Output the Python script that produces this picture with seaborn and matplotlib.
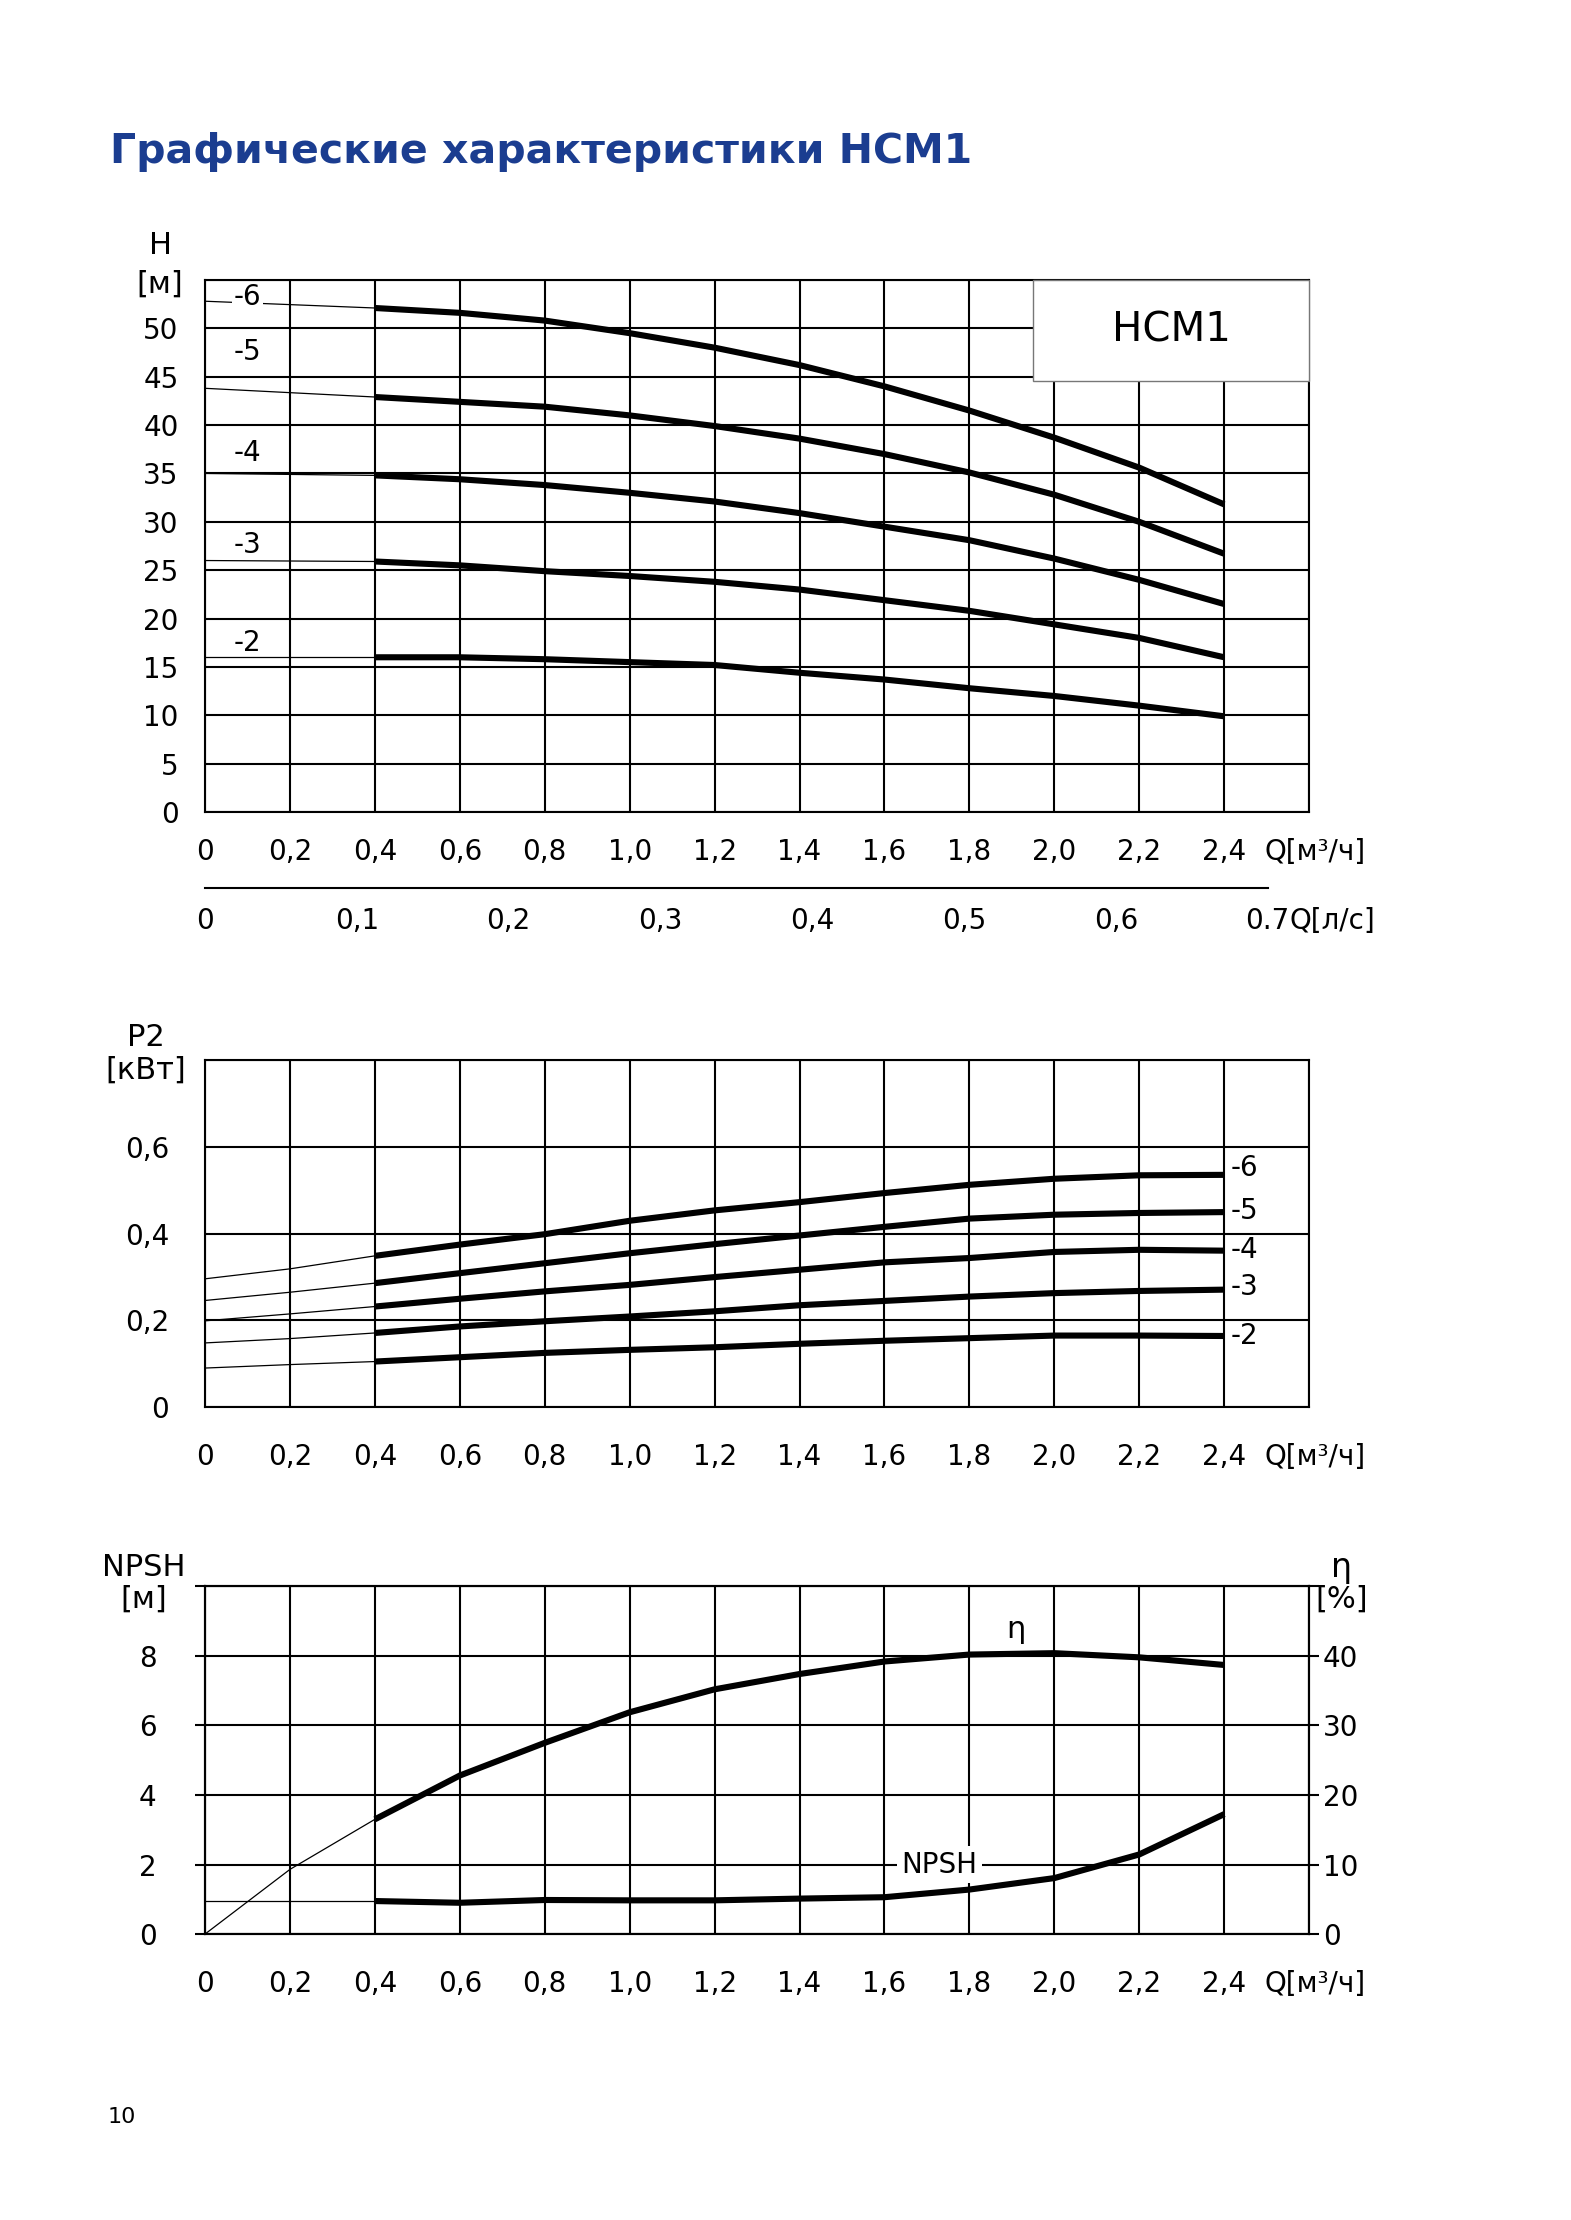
import numpy as np
import pandas as pd
import seaborn as sns
import matplotlib.pyplot as plt
from matplotlib.patches import Rectangle

# ---- data ----
stages = ['-6', '-5', '-4', '-3', '-2']

# H(Q), m  (first point = thin extension to Q=0)
q_h = [0, 0.4, 0.6, 0.8, 1.0, 1.2, 1.4, 1.6, 1.8, 2.0, 2.2, 2.4]
h_6 = [52.8, 52.1, 51.6, 50.8, 49.5, 48.0, 46.2, 44.0, 41.5, 38.7, 35.6, 31.8]
h_5 = [43.8, 42.9, 42.4, 41.9, 41.0, 39.9, 38.6, 37.0, 35.1, 32.8, 30.0, 26.7]
h_4 = [35.0, 34.8, 34.4, 33.8, 33.0, 32.1, 30.9, 29.5, 28.1, 26.2, 24.0, 21.5]
h_3 = [26.0, 25.9, 25.5, 24.9, 24.4, 23.8, 23.0, 21.9, 20.8, 19.4, 18.0, 16.0]
h_2 = [16.0, 16.0, 16.0, 15.8, 15.5, 15.2, 14.4, 13.7, 12.8, 12.0, 11.0, 9.9]
h_label_y = [53.2, 47.6, 37.1, 27.6, 17.5]

# P2(Q), kW
q_p = [0, 0.2, 0.4, 0.6, 0.8, 1.0, 1.2, 1.4, 1.6, 1.8, 2.0, 2.2, 2.4]
p_6 = [0.296, 0.319, 0.349, 0.375, 0.399, 0.430, 0.454, 0.473, 0.494, 0.513, 0.527, 0.535, 0.536]
p_5 = [0.246, 0.265, 0.286, 0.309, 0.332, 0.355, 0.376, 0.396, 0.416, 0.435, 0.444, 0.448, 0.450]
p_4 = [0.199, 0.215, 0.232, 0.250, 0.267, 0.282, 0.300, 0.317, 0.334, 0.344, 0.358, 0.363, 0.361]
p_3 = [0.148, 0.158, 0.171, 0.186, 0.198, 0.209, 0.221, 0.235, 0.245, 0.255, 0.263, 0.268, 0.271]
p_2 = [0.090, 0.098, 0.105, 0.115, 0.125, 0.132, 0.138, 0.146, 0.153, 0.159, 0.165, 0.165, 0.164]
p_label_y = [0.551, 0.452, 0.362, 0.276, 0.163]

# efficiency %, NPSH m
q_e = [0, 0.2, 0.4, 0.6, 0.8, 1.0, 1.2, 1.4, 1.6, 1.8, 2.0, 2.2, 2.4]
eta = [0, 9.3, 16.5, 22.8, 27.5, 31.9, 35.2, 37.4, 39.2, 40.2, 40.4, 39.8, 38.7]
q_n = [0, 0.4, 0.6, 0.8, 1.0, 1.2, 1.4, 1.6, 1.8, 2.0, 2.2, 2.4]
npsh = [0.95, 0.95, 0.90, 0.98, 0.97, 0.97, 1.02, 1.06, 1.28, 1.61, 2.29, 3.45]

q_ticks = [0, 0.2, 0.4, 0.6, 0.8, 1.0, 1.2, 1.4, 1.6, 1.8, 2.0, 2.2, 2.4, 2.6]
q_labels = ['0', '0,2', '0,4', '0,6', '0,8', '1,0', '1,2', '1,4', '1,6', '1,8',
            '2,0', '2,2', '2,4', '']
ls_ticks = [0, 0.1, 0.2, 0.3, 0.4, 0.5, 0.6, 0.7]
ls_labels = ['0', '0,1', '0,2', '0,3', '0,4', '0,5', '0,6', '0.7']

df_h = pd.DataFrame({'Q': q_h * 5,
                     'H': h_6 + h_5 + h_4 + h_3 + h_2,
                     'stage': np.repeat(stages, len(q_h))})
df_p = pd.DataFrame({'Q': q_p * 5,
                     'P2': p_6 + p_5 + p_4 + p_3 + p_2,
                     'stage': np.repeat(stages, len(q_p))})
df_e = pd.DataFrame({'Q': q_e, 'eta': eta})
df_n = pd.DataFrame({'Q': q_n, 'NPSH': npsh})

sns.set_style('white')
plt.rcParams['font.family'] = ['DejaVu Sans']
plt.rcParams['text.color'] = 'black'
plt.rcParams['xtick.color'] = 'black'
plt.rcParams['ytick.color'] = 'black'

W, H = 1571, 2220
fig = plt.figure(figsize=(W / 100, H / 100), dpi=100)
FS = 20
UL = 22
THICK = 4.4
THIN = 0.9
GRID = 1.5


def style(ax, ymax, yticks, ylabels, ypad, xpad):
    ax.set_xlim(0, 2.6)
    ax.set_ylim(0, ymax)
    ax.set_xticks(q_ticks)
    ax.set_xticklabels(q_labels)
    ax.set_yticks(yticks)
    ax.set_yticklabels(ylabels)
    ax.grid(True, color='black', lw=GRID)
    for s in ax.spines.values():
        s.set_color('black')
        s.set_linewidth(GRID)
    ax.tick_params(axis='both', direction='out', length=6, width=GRID, labelsize=FS)
    ax.tick_params(axis='y', pad=ypad)
    ax.tick_params(axis='x', pad=xpad)
    ax.set_xlabel('')
    ax.set_ylabel('')


def q_unit(ax, down):
    ax.annotate('Q[м³/ч]', xy=(2.4, 0), xycoords=('data', 'axes fraction'),
                xytext=(29, -down), textcoords='offset points',
                ha='left', va='top', fontsize=FS)


# ---- title ----
fig.text(110 / W, 1 - 163 / H, 'Графические характеристики НСМ1', fontsize=29.5,
         fontweight='bold', color='#1b3d90', ha='left', va='baseline')

# ---- H chart ----
ax1 = fig.add_axes([0.1305, 0.6342, 0.7028, 0.2397])
sns.lineplot(data=df_h[df_h.Q <= 0.4], x='Q', y='H', units='stage', estimator=None,
             color='black', lw=THIN, ax=ax1, legend=False)
sns.lineplot(data=df_h[df_h.Q >= 0.4], x='Q', y='H', units='stage', estimator=None,
             color='black', lw=THICK, ax=ax1, legend=False, solid_capstyle='butt')
style(ax1, 55, list(range(0, 56, 5)), [str(v) for v in range(0, 51, 5)] + [''], 13, 13)
for st, yl in zip(stages, h_label_y):
    bb = dict(facecolor='white', edgecolor='none', pad=1) if st == '-6' else None
    ax1.text(0.1, yl, st, fontsize=FS, ha='center', va='center', bbox=bb, zorder=4)
ax1.add_patch(Rectangle((1.95, 44.6), 0.65, 10.4, facecolor='white', edgecolor='#777777',
                        lw=1.0, zorder=3, clip_on=False))
ax1.text(2.275, 49.8, 'НСМ1', fontsize=29, ha='center', va='center', zorder=4)
q_unit(ax1, 19)
fig.text(160 / W, 1 - 245 / H, 'H', fontsize=UL, ha='center', va='center')
fig.text(160 / W, 1 - 284 / H, '[м]', fontsize=UL, ha='center', va='center')

# second flow scale, l/s
ax_ls = fig.add_axes([0.1305, 1 - 888 / H, 0.7028, 0.0005])
ax_ls.set_xlim(0, 2.6 / 3.575)
for k in ['top', 'left', 'right']:
    ax_ls.spines[k].set_visible(False)
ax_ls.spines['bottom'].set_bounds(0, 0.7)
ax_ls.spines['bottom'].set_linewidth(GRID)
ax_ls.spines['bottom'].set_color('black')
ax_ls.set_yticks([])
ax_ls.set_xticks(ls_ticks)
ax_ls.set_xticklabels(ls_labels)
ax_ls.tick_params(axis='x', direction='out', length=9, width=GRID, labelsize=FS, pad=5)
ax_ls.annotate('Q[л/с]', xy=(0.7, 0), xycoords=('data', 'axes fraction'),
               xytext=(16, -14), textcoords='offset points', ha='left', va='top', fontsize=FS)

# ---- P2 chart ----
ax2 = fig.add_axes([0.1305, 0.3662, 0.7028, 0.1561])
sns.lineplot(data=df_p[df_p.Q <= 0.4], x='Q', y='P2', units='stage', estimator=None,
             color='black', lw=THIN, ax=ax2, legend=False)
sns.lineplot(data=df_p[df_p.Q >= 0.4], x='Q', y='P2', units='stage', estimator=None,
             color='black', lw=THICK, ax=ax2, legend=False, solid_capstyle='butt')
style(ax2, 0.8, [0, 0.2, 0.4, 0.6, 0.8], ['0', '0,2', '0,4', '0,6', ''], 20, 20)
for st, yl in zip(stages, p_label_y):
    ax2.text(2.415, yl, st, fontsize=FS, ha='left', va='center')
q_unit(ax2, 26)
fig.text(146 / W, 1 - 1038 / H, 'P2', fontsize=UL, ha='center', va='center')
fig.text(146 / W, 1 - 1070 / H, '[кВт]', fontsize=UL, ha='center', va='center')

# ---- NPSH / efficiency chart ----
ax3 = fig.add_axes([0.1305, 0.1288, 0.7028, 0.1566])
sns.lineplot(data=df_n[df_n.Q <= 0.4], x='Q', y='NPSH', color='black', lw=THIN, ax=ax3)
sns.lineplot(data=df_n[df_n.Q >= 0.4], x='Q', y='NPSH', color='black', lw=THICK, ax=ax3,
             solid_capstyle='butt')
style(ax3, 10, [0, 2, 4, 6, 8, 10], ['0', '2', '4', '6', '8', ''], 28, 20)
ax3.tick_params(axis='y', length=7)
ax3.text(1.73, 2.0, 'NPSH', fontsize=FS, ha='center', va='center',
         bbox=dict(facecolor='white', edgecolor='none', pad=3), zorder=4)
ax3.text(1.91, 8.75, 'η', fontsize=UL, ha='center', va='center')

ax3r = ax3.twinx()
sns.lineplot(data=df_e[df_e.Q <= 0.4], x='Q', y='eta', color='black', lw=THIN, ax=ax3r)
sns.lineplot(data=df_e[df_e.Q >= 0.4], x='Q', y='eta', color='black', lw=THICK, ax=ax3r,
             solid_capstyle='butt')
ax3r.set_xlim(0, 2.6)
ax3r.set_ylim(0, 50)
ax3r.set_yticks([0, 10, 20, 30, 40, 50])
ax3r.set_yticklabels(['0', '10', '20', '30', '40', ''])
ax3r.set_ylabel('')
ax3r.grid(False)
for s in ax3r.spines.values():
    s.set_color('black')
    s.set_linewidth(GRID)
ax3r.tick_params(axis='y', direction='out', length=7, width=GRID, labelsize=FS, pad=3)
q_unit(ax3, 26)
fig.text(144 / W, 1 - 1567 / H, 'NPSH', fontsize=UL, ha='center', va='center')
fig.text(144 / W, 1 - 1599 / H, '[м]', fontsize=UL, ha='center', va='center')
fig.text(1342 / W, 1 - 1567 / H, 'η', fontsize=UL + 2, ha='center', va='center')
fig.text(1342 / W, 1 - 1599 / H, '[%]', fontsize=UL, ha='center', va='center')

fig.text(122 / W, 1 - 2117 / H, '10', fontsize=16, ha='center', va='center')

fig.savefig('out.png', dpi=100)
